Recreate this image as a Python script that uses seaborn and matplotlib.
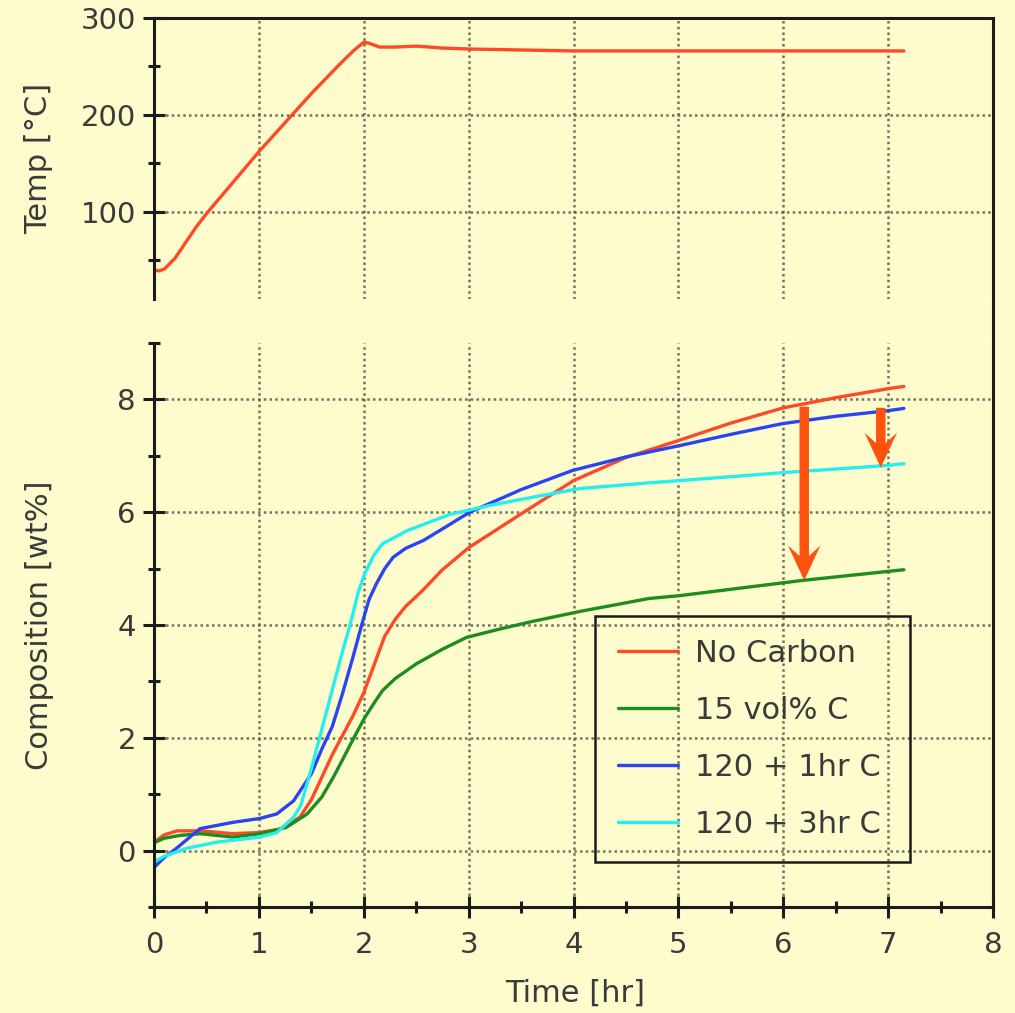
import matplotlib
matplotlib.use("Agg")
import numpy as np
import pandas as pd
import matplotlib.pyplot as plt
from matplotlib.lines import Line2D
from matplotlib.patches import FancyArrow
from matplotlib.ticker import MultipleLocator
import seaborn as sns

# ---------------- data ----------------
# furnace temperature profile
temp_time = [0.0, 0.05, 0.1, 0.2, 0.3, 0.4, 0.5, 0.75, 1.0, 1.25, 1.5, 1.75, 1.9,
             2.0, 2.05, 2.15, 2.3, 2.5, 2.75, 3.0, 3.5, 4.0, 5.0, 6.0, 7.0, 7.15]
temp_degc = [40, 39, 41, 52, 68, 84, 98, 130, 162, 192, 222, 250, 266,
             275, 274, 270, 270, 271, 269, 268, 267, 266, 266, 266, 266, 266]

# hydrogen uptake, no carbon
t_nocarbon = [0.0, 0.1, 0.22, 0.45, 0.75, 1.0, 1.2, 1.39, 1.5, 1.6, 1.7, 1.8, 1.9,
              2.0, 2.1, 2.2, 2.3, 2.4, 2.56, 2.75, 3.0, 3.5, 4.0, 4.5, 5.0, 5.5, 6.0,
              6.5, 7.0, 7.15]
wt_nocarbon = [0.15, 0.28, 0.35, 0.35, 0.3, 0.32, 0.38, 0.59, 0.9, 1.3, 1.7, 2.05, 2.4,
               2.8, 3.3, 3.8, 4.1, 4.33, 4.61, 4.98, 5.37, 5.97, 6.56, 6.97, 7.27, 7.58,
               7.85, 8.03, 8.19, 8.23]

# 15 vol% carbon
t_15c = [0.0, 0.1, 0.25, 0.44, 0.75, 1.01, 1.26, 1.46, 1.6, 1.71, 1.8, 1.9, 2.01,
         2.1, 2.18, 2.3, 2.5, 2.75, 2.98, 3.3, 3.6, 4.06, 4.72, 5.01, 6.18, 7.15]
wt_15c = [0.14, 0.22, 0.27, 0.3, 0.24, 0.3, 0.41, 0.65, 0.95, 1.3, 1.62, 1.98, 2.36,
          2.62, 2.84, 3.05, 3.31, 3.57, 3.78, 3.93, 4.06, 4.24, 4.47, 4.52, 4.79, 4.98]

# 120 + 1 hr carbon
t_1hr = [0.0, 0.1, 0.22, 0.44, 0.75, 1.01, 1.17, 1.33, 1.5, 1.6, 1.7, 1.8, 1.9, 1.98,
         2.05, 2.12, 2.2, 2.28, 2.4, 2.57, 2.8, 3.01, 3.5, 3.99, 4.5, 5.01, 5.5,
         5.99, 6.5, 7.0, 7.15]
wt_1hr = [-0.3, -0.12, 0.05, 0.39, 0.5, 0.57, 0.65, 0.88, 1.36, 1.8, 2.2, 2.8, 3.45, 4.0,
          4.45, 4.73, 5.0, 5.2, 5.36, 5.5, 5.76, 6.0, 6.4, 6.74, 6.98, 7.18, 7.38,
          7.57, 7.7, 7.8, 7.84]

# 120 + 3 hr carbon
t_3hr = [0.0, 0.1, 0.31, 0.6, 1.01, 1.17, 1.33, 1.4, 1.5, 1.6, 1.7, 1.8, 1.87, 1.95,
         2.01, 2.1, 2.18, 2.41, 2.82, 3.2, 3.68, 4.06, 4.72, 5.01, 5.99, 7.0, 7.15]
wt_3hr = [-0.2, -0.1, 0.04, 0.15, 0.24, 0.32, 0.59, 0.8, 1.45, 2.15, 2.85, 3.55, 4.0, 4.6,
          4.91, 5.25, 5.44, 5.67, 5.96, 6.12, 6.29, 6.42, 6.52, 6.56, 6.7, 6.83, 6.86]

series_names = ["No Carbon", "15 vol% C", "120 + 1hr C", "120 + 3hr C"]
series_colors = ["#FF4A28", "#1E8C1E", "#2B44F2", "#25EEEE"]

# capacity-loss arrows (time, start, end)
arrow_time = [6.2, 6.93]
arrow_from = [7.87, 7.85]
arrow_to = [4.79, 6.79]

# ---------------- style ----------------
bg = "#FEFCCC"
ink = "#1C1C1C"
text_c = "#3A3A3A"
grid_c = "#5A5A4C"

sns.set_theme(style="ticks")
plt.rcParams["font.family"] = ["DejaVu Sans"]
plt.rcParams["axes.edgecolor"] = ink
plt.rcParams["axes.linewidth"] = 2.2

W, H = 1015, 1013
fig = plt.figure(figsize=(W / 100, H / 100), dpi=100, facecolor=bg)

x_left, x_right = 154 / W, 993 / W
ax1 = fig.add_axes([x_left, 1 - 299 / H, x_right - x_left, (299 - 18) / H])
ax2 = fig.add_axes([x_left, 1 - 907 / H, x_right - x_left, (907 - 343) / H])

for ax in (ax1, ax2):
    ax.set_facecolor(bg)
    ax.set_axisbelow(True)
    ax.set_xlim(0, 8)
    ax.xaxis.set_major_locator(MultipleLocator(1))
    ax.xaxis.set_minor_locator(MultipleLocator(0.5))
    ax.grid(which="major", linestyle=(0, (1, 1.3)), color=grid_c, linewidth=1.8, alpha=0.85)
    ax.tick_params(which="major", direction="inout", length=16, width=2.2, color=ink,
                   labelcolor=text_c, labelsize=21)
    ax.tick_params(which="minor", direction="inout", length=8, width=2.2, color=ink)
    ax.tick_params(axis="y", which="major", pad=5)

# top panel: temperature
temp_df = pd.DataFrame({"time": temp_time, "temp": temp_degc})
sns.lineplot(data=temp_df, x="time", y="temp", ax=ax1, color="#FF4A28", lw=2.4,
             sort=False, estimator=None)
ax1.set_ylim(10, 300)
ax1.yaxis.set_major_locator(MultipleLocator(100))
ax1.yaxis.set_minor_locator(MultipleLocator(50))
ax1.spines["bottom"].set_visible(False)
ax1.tick_params(axis="x", which="both", bottom=False, labelbottom=False)
ax1.set_xlabel("")
ax1.set_ylabel("Temp [°C]", fontsize=22, color=text_c)
ax1.yaxis.set_label_coords(-0.137, 0.5)
ax1.yaxis.label.set_va("center")

# bottom panel: composition
frames = []
for name, t, w in zip(series_names,
                      [t_nocarbon, t_15c, t_1hr, t_3hr],
                      [wt_nocarbon, wt_15c, wt_1hr, wt_3hr]):
    frames.append(pd.DataFrame({"time": t, "wt": w, "sample": name}))
comp_df = pd.concat(frames, ignore_index=True)
sns.lineplot(data=comp_df, x="time", y="wt", hue="sample", hue_order=series_names,
             palette=series_colors, ax=ax2, lw=2.4, sort=False, estimator=None)
ax2.set_ylim(-1, 9)
ax2.yaxis.set_major_locator(MultipleLocator(2))
ax2.yaxis.set_minor_locator(MultipleLocator(1))
ax2.spines["top"].set_visible(False)
ax2.tick_params(axis="x", which="major", pad=9)
ax2.set_ylabel("Composition [wt%]", fontsize=22, color=text_c)
ax2.yaxis.set_label_coords(-0.137, 0.5)
ax2.yaxis.label.set_va("center")
ax2.set_xlabel("Time [hr]", fontsize=22, color=text_c)
ax2.xaxis.set_label_coords(0.502, -0.152)
ax2.xaxis.label.set_va("center")

# arrows showing the drop in capacity
for xa, y0, y1 in zip(arrow_time, arrow_from, arrow_to):
    ax2.add_patch(FancyArrow(xa, y0, 0, y1 - y0, width=0.09, head_width=0.31,
                             head_length=0.62, overhang=0.3, length_includes_head=True,
                             color="#FF520E", lw=0, zorder=5))

handles = [Line2D([], [], color=c, lw=2.4) for c in series_colors]
leg = ax2.legend(handles, series_names, loc="lower left",
                 bbox_to_anchor=(0.526, 0.08, 0.375, 0.443), mode="expand",
                 borderaxespad=0, fontsize=22, labelcolor=text_c,
                 handlelength=1.95, handletextpad=0.55, labelspacing=0.92,
                 borderpad=0.75, fancybox=False, frameon=True, framealpha=1)
frame = leg.get_frame()
frame.set_facecolor("none")
frame.set_edgecolor(ink)
frame.set_linewidth(1.8)

# right border runs continuously through both panels
fig.add_artist(Line2D([x_right, x_right], [1 - 299 / H, 1 - 343 / H],
                      transform=fig.transFigure, color=ink, lw=2.2))

fig.savefig("out.png", dpi=100, facecolor=bg)
